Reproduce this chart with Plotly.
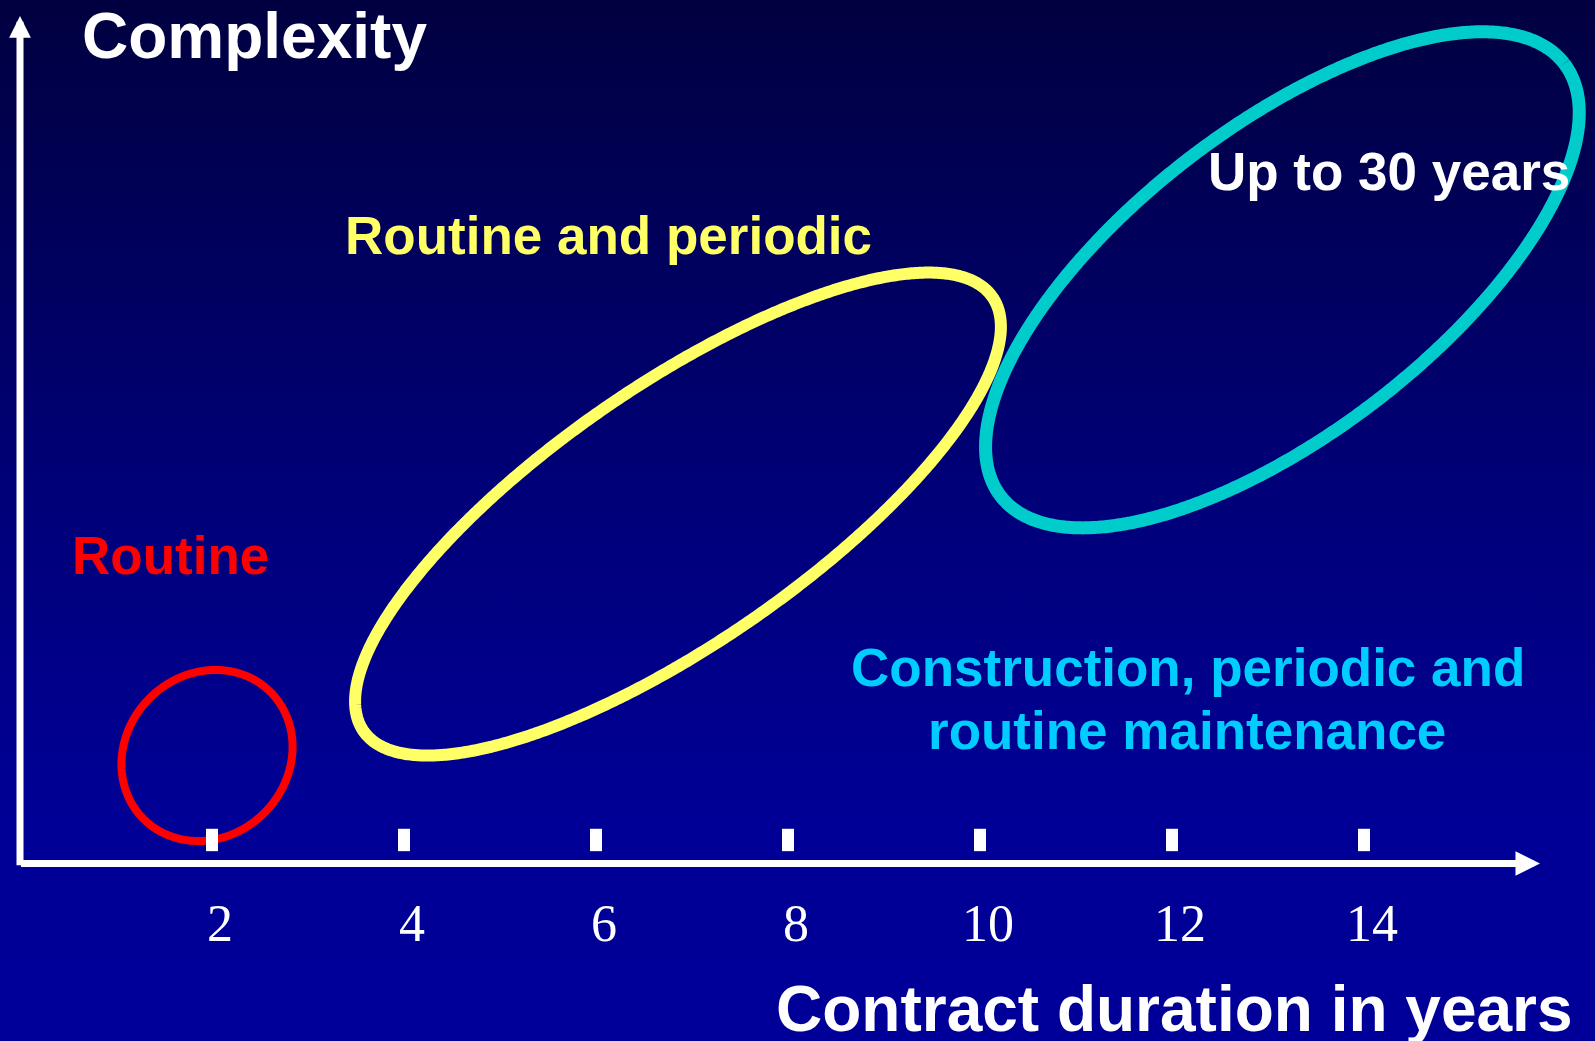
import base64
import numpy as np
import plotly.graph_objects as go

# ---------------- data ----------------
tick_values = [2, 4, 6, 8, 10, 12, 14]
tick_labels = ["2", "4", "6", "8", "10", "12", "14"]

group_names = ["Routine", "Routine and periodic", "Construction, periodic and routine maintenance"]
center_x = [1.948, 6.854, 13.15]      # contract duration (years)
center_y = [1.125, 3.64, 6.08]        # complexity (relative)
semi_major = [0.935, 3.98, 3.70]
semi_minor = [0.845, 1.342, 1.596]
tilt_deg = [45.0, 34.6, 37.5]
ellipse_colors = ["#FF0000", "#FFFF66", "#00CCCC"]
ellipse_widths = [8, 12, 13]

x_axis_end = 15.833
y_axis_end = 8.828

# ---------------- layout helpers ----------------
W, H = 1595, 1041
X0_PX, Y0_PX, SCALE = 20, 863.5, 96.0
x_range = [-X0_PX / SCALE, (W - X0_PX) / SCALE]
y_range = [(Y0_PX - H) / SCALE, Y0_PX / SCALE]


def px(p):
    return p / W


def py(p):
    return 1 - p / H


fig = go.Figure()

# ellipses
t = np.linspace(0, 2 * np.pi, 721)
for name, cx, cy, a, b, th, col, lw in zip(group_names, center_x, center_y, semi_major,
                                            semi_minor, tilt_deg, ellipse_colors, ellipse_widths):
    r = np.deg2rad(th)
    ex = cx + a * np.cos(t) * np.cos(r) - b * np.sin(t) * np.sin(r)
    ey = cy + a * np.cos(t) * np.sin(r) + b * np.sin(t) * np.cos(r)
    fig.add_trace(go.Scatter(x=ex, y=ey, mode="lines", name=name,
                             line=dict(color=col, width=lw, simplify=False), hoverinfo="skip"))

# tick marks
fig.add_trace(go.Scatter(x=tick_values, y=[0.245] * len(tick_values), mode="markers",
                         marker=dict(symbol="line-ns", size=16, color="white",
                                     line=dict(color="white", width=12)),
                         hoverinfo="skip"))

annotations = []
# axis arrows
annotations.append(dict(x=x_axis_end, y=0, ax=-0.005, ay=0, xref="x", yref="y", axref="x", ayref="y",
                        text="", showarrow=True, arrowhead=2, arrowwidth=7, arrowsize=0.7,
                        arrowcolor="white"))
annotations.append(dict(x=0, y=y_axis_end, ax=0, ay=-0.035, xref="x", yref="y", axref="x", ayref="y",
                        text="", showarrow=True, arrowhead=2, arrowwidth=7, arrowsize=0.62,
                        arrowcolor="white"))

# tick labels
for v, lab in zip(tick_values, tick_labels):
    annotations.append(dict(x=v, y=py(923), xref="x", yref="paper", text=lab, showarrow=False,
                            xshift=7.5, xanchor="center", yanchor="middle",
                            font=dict(family="Liberation Serif, Times New Roman, serif", size=52,
                                      color="white")))

bold = "Liberation Sans, Arial, sans-serif"
texts = [
    ("Complexity", 254, 36, 64, "white"),
    ("Contract duration in years", 1174, 1009, 64, "white"),
    ("Routine and periodic", 608, 235, 53, "#FFFF66"),
    ("Routine", 170, 555, 53, "#FF0000"),
    ("Up to 30 years", 1389, 171, 53, "white"),
    ("Construction, periodic and", 1188, 667, 53, "#00CCFF"),
    ("routine maintenance", 1187, 730, 53, "#00CCFF"),
]
for txt, x, y, s, c in texts:
    annotations.append(dict(x=px(x), y=py(y), xref="paper", yref="paper", text=txt, showarrow=False,
                            xanchor="center", yanchor="middle",
                            font=dict(family=bold, size=s, color=c, weight="bold")))

# gradient background
svg = ('<svg xmlns="http://www.w3.org/2000/svg" width="1595" height="1041" preserveAspectRatio="none">'
       '<defs><linearGradient id="g" x1="0" y1="0" x2="0" y2="1">'
       '<stop offset="0" stop-color="rgb(0,0,64)"/>'
       '<stop offset="0.45" stop-color="rgb(0,0,118)"/>'
       '<stop offset="0.78" stop-color="rgb(0,0,150)"/>'
       '<stop offset="1" stop-color="rgb(0,0,153)"/>'
       '</linearGradient></defs><rect x="0" y="0" width="1595" height="1041" fill="url(#g)"/></svg>')
src = "data:image/svg+xml;base64," + base64.b64encode(svg.encode()).decode()

fig.update_layout(
    width=W, height=H,
    margin=dict(l=0, r=0, t=0, b=0, pad=0),
    paper_bgcolor="#000066", plot_bgcolor="rgba(0,0,0,0)",
    showlegend=False,
    xaxis=dict(range=x_range, visible=False, fixedrange=True),
    yaxis=dict(range=y_range, visible=False, fixedrange=True),
    annotations=annotations,
    images=[dict(source=src, xref="paper", yref="paper", x=0, y=1, sizex=1, sizey=1,
                 sizing="stretch", layer="below", xanchor="left", yanchor="top")],
)

fig.write_html("out.html", config={"displayModeBar": False},
               post_script="document.body.style.margin='0';document.body.style.overflow='hidden';")
